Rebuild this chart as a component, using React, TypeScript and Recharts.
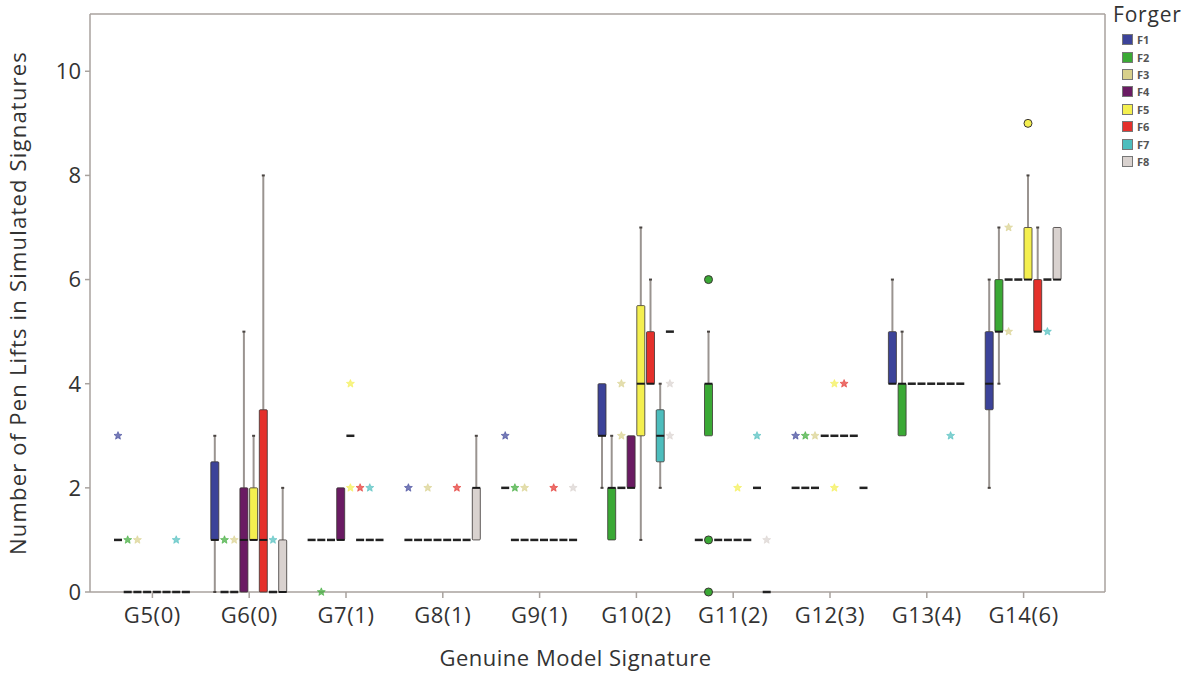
import React from 'react';
import { ComposedChart, Bar, XAxis, YAxis, Legend, CartesianGrid } from 'recharts';

const categories = ['G5(0)', 'G6(0)', 'G7(1)', 'G8(1)', 'G9(1)', 'G10(2)', 'G11(2)', 'G12(3)', 'G13(4)', 'G14(6)'];
const forgers = ['F1', 'F2', 'F3', 'F4', 'F5', 'F6', 'F7', 'F8'];
const forgerColors = ['#3c4399', '#3aa935', '#d8d08c', '#6a1b63', '#f4ef4f', '#e4302b', '#4dbdbd', '#d9d2cf'];
const yTicks = [0, 2, 4, 6, 8, 10];

// [min, q1, median, q3, max], one per category G5..G14
type Stat = [number, number, number, number, number];
const flat = (v: number): Stat => [v, v, v, v, v];

const boxF1: Stat[] = [flat(1), [0, 1, 1, 2.5, 3], flat(1), flat(1), flat(2), [2, 3, 3, 4, 4], flat(1), flat(2), [4, 4, 4, 5, 6], [2, 3.5, 4, 5, 6]];
const boxF2: Stat[] = [flat(0), flat(0), flat(1), flat(1), flat(1), [1, 1, 2, 2, 3], [3, 3, 4, 4, 5], flat(2), [3, 3, 4, 4, 5], [4, 5, 5, 6, 7]];
const boxF3: Stat[] = [flat(0), flat(0), flat(1), flat(1), flat(1), flat(2), flat(1), flat(2), flat(4), flat(6)];
const boxF4: Stat[] = [flat(0), [0, 0, 1, 2, 5], [1, 1, 1, 2, 2], flat(1), flat(1), [2, 2, 2, 3, 3], flat(1), flat(3), flat(4), flat(6)];
const boxF5: Stat[] = [flat(0), [1, 1, 1, 2, 3], flat(3), flat(1), flat(1), [1, 3, 4, 5.5, 7], flat(1), flat(3), flat(4), [6, 6, 6, 7, 8]];
const boxF6: Stat[] = [flat(0), [0, 0, 1, 3.5, 8], flat(1), flat(1), flat(1), [4, 4, 4, 5, 6], flat(1), flat(3), flat(4), [5, 5, 5, 6, 7]];
const boxF7: Stat[] = [flat(0), flat(0), flat(1), flat(1), flat(1), [2, 2.5, 3, 3.5, 4], flat(2), flat(3), flat(4), flat(6)];
const boxF8: Stat[] = [flat(0), [0, 0, 0, 1, 2], flat(1), [1, 1, 2, 2, 3], flat(1), flat(5), flat(0), flat(2), flat(4), [6, 6, 6, 7, 7]];

// single observations drawn as stars, per category
const starsF1 = [[3], [], [], [2], [3], [], [], [3], [], []];
const starsF2 = [[1], [1], [0], [], [2], [], [], [3], [], []];
const starsF3 = [[1], [1], [], [2], [2], [4, 3], [], [3], [], [7, 5]];
const starsF4 = [[], [], [], [], [], [], [], [], [], []];
const starsF5 = [[], [], [2, 4], [], [], [], [2], [4, 2], [], []];
const starsF6 = [[], [], [2], [2], [2], [], [], [4], [], []];
const starsF7 = [[1], [1], [2], [], [], [], [3], [], [3], [5]];
const starsF8 = [[], [], [], [], [2], [4, 3], [1], [], [], []];

// outliers drawn as circles
const circleOutliers = [
  { forger: 'F2', category: 'G11(2)', values: [6, 1, 0] },
  { forger: 'F5', category: 'G14(6)', values: [9] },
];

const boxes = [boxF1, boxF2, boxF3, boxF4, boxF5, boxF6, boxF7, boxF8];
const stars = [starsF1, starsF2, starsF3, starsF4, starsF5, starsF6, starsF7, starsF8];

const rows = categories.map((category, ci) => {
  const row: any = { category };
  forgers.forEach((f, fi) => {
    const stat = boxes[fi][ci];
    const st = stars[fi][ci];
    const circles = circleOutliers.filter(c => c.forger === f && c.category === category).flatMap(c => c.values);
    row[f] = { stat, stars: st, circles, top: Math.max(stat[4], ...st, ...circles) };
  });
  return row;
});

const FONT = '"Open Sans", Lato, sans-serif';
const FRAME = '#a8a29e';

function starPath(cx: number, cy: number, r: number) {
  const pts: string[] = [];
  for (let k = 0; k < 10; k++) {
    const a = -Math.PI / 2 + (k * Math.PI) / 5;
    const rr = k % 2 === 0 ? r : r * 0.45;
    pts.push(`${cx + rr * Math.cos(a)},${cy + rr * Math.sin(a)}`);
  }
  return pts.join(' ');
}

function BoxGlyph(props: any) {
  const { x, y, width, height, value, payload, fi } = props;
  const cell = payload && payload[forgers[fi]];
  if (!cell) return null;
  const color = forgerColors[fi];
  const base = y + height;
  const unit = value > 0 ? height / value : 0;
  const py = (v: number) => base - v * unit;
  const cx = x + width / 2;
  const half = 4;
  const [mn, q1, md, q3, mx] = cell.stat as Stat;

  return (
    <g>
      {mn < q1 && (
        <g>
          <line x1={cx} x2={cx} y1={py(q1)} y2={py(mn)} stroke="#9a9490" strokeWidth={2} />
          <line x1={cx - 1.5} x2={cx + 1.5} y1={py(mn)} y2={py(mn)} stroke="#4a4542" strokeWidth={2} />
        </g>
      )}
      {mx > q3 && (
        <g>
          <line x1={cx} x2={cx} y1={py(q3)} y2={py(mx)} stroke="#9a9490" strokeWidth={2} />
          <line x1={cx - 1.5} x2={cx + 1.5} y1={py(mx)} y2={py(mx)} stroke="#4a4542" strokeWidth={2} />
        </g>
      )}
      {q3 > q1 ? (
        <g>
          <rect x={cx - half} y={py(q3)} width={half * 2} height={py(q1) - py(q3)} fill={color} stroke="#3a3533" strokeWidth={0.8} rx={1} />
          <line x1={cx - half} x2={cx + half} y1={py(md)} y2={py(md)} stroke="#1a1a1a" strokeWidth={2} />
        </g>
      ) : (
        <line x1={cx - half} x2={cx + half} y1={py(md)} y2={py(md)} stroke="#222" strokeWidth={2.5} />
      )}
      {cell.stars.map((v: number, k: number) => (
        <polygon key={'s' + k} points={starPath(cx, py(v), 4.2)} fill={color} fillOpacity={0.7} stroke={color} strokeOpacity={0.9} strokeWidth={0.6} />
      ))}
      {cell.circles.map((v: number, k: number) => (
        <circle key={'c' + k} cx={cx} cy={py(v)} r={4} fill={color} stroke="#3a3533" strokeWidth={1} />
      ))}
    </g>
  );
}

const renderLegend = (props: any) => {
  const { payload } = props;
  return (
    <div style={{ width: 90, boxSizing: 'border-box', paddingLeft: 8, paddingTop: 2, fontFamily: FONT }}>
      <div style={{ fontSize: 21, color: '#333', lineHeight: '24px', marginBottom: 5, letterSpacing: 0.8 }}>Forger</div>
      {(payload || []).map((e: any) => (
        <div key={e.value} style={{ display: 'flex', alignItems: 'center', height: 17.4, paddingLeft: 9 }}>
          <span style={{ display: 'inline-block', width: 9, height: 9, background: e.color, border: '1px solid #777', marginRight: 4 }} />
          <span style={{ fontSize: 11, color: '#555', fontWeight: 700 }}>{e.value}</span>
        </div>
      ))}
    </div>
  );
};

export default function App() {
  return (
    <div style={{ position: 'absolute', left: 0, top: 0, background: '#fff', fontFamily: FONT }}>
      <ComposedChart
        width={1200}
        height={679}
        data={rows}
        margin={{ top: 14, right: 5, left: 0, bottom: 0 }}
        barSize={8}
        barGap={1.7}
      >
        {/* plot frame drawn under the boxes */}
        <CartesianGrid
          stroke={FRAME}
          strokeWidth={1.5}
          horizontalCoordinatesGenerator={({ offset }: any) => [offset.top, offset.top + offset.height]}
          verticalCoordinatesGenerator={({ offset }: any) => [offset.left, offset.left + offset.width]}
        />
        <XAxis
          dataKey="category"
          height={87}
          padding={{ left: 14, right: 33 }}
          axisLine={false}
          tickLine={{ stroke: FRAME, strokeWidth: 1.5 }}
          tickSize={6}
          tickMargin={9}
          tick={{ fill: '#333', fontSize: 22, letterSpacing: 0.6 }}
          label={{ value: 'Genuine Model Signature', position: 'insideBottom', offset: 13, dx: -22, style: { fill: '#333', fontSize: 22, letterSpacing: 0.5 } }}
        />
        <YAxis
          type="number"
          domain={[0, 11.1]}
          ticks={yTicks}
          width={90}
          axisLine={false}
          tickLine={{ stroke: FRAME, strokeWidth: 1.5 }}
          tickSize={5}
          tickMargin={4}
          tick={{ fill: '#333', fontSize: 22 }}
          label={{ value: 'Number of Pen Lifts in Simulated Signatures', angle: -90, position: 'insideLeft', offset: 18, style: { textAnchor: 'middle', fill: '#333', fontSize: 22, letterSpacing: 1.2 } }}
        />
        <Legend layout="vertical" align="right" verticalAlign="top" wrapperStyle={{ top: 0 }} content={renderLegend} />
        {forgers.map((f, fi) => (
          <Bar
            key={f}
            name={f}
            dataKey={(r: any) => r[f].top}
            fill={forgerColors[fi]}
            isAnimationActive={false}
            shape={(p: any) => <BoxGlyph {...p} fi={fi} />}
          />
        ))}
      </ComposedChart>
    </div>
  );
}
